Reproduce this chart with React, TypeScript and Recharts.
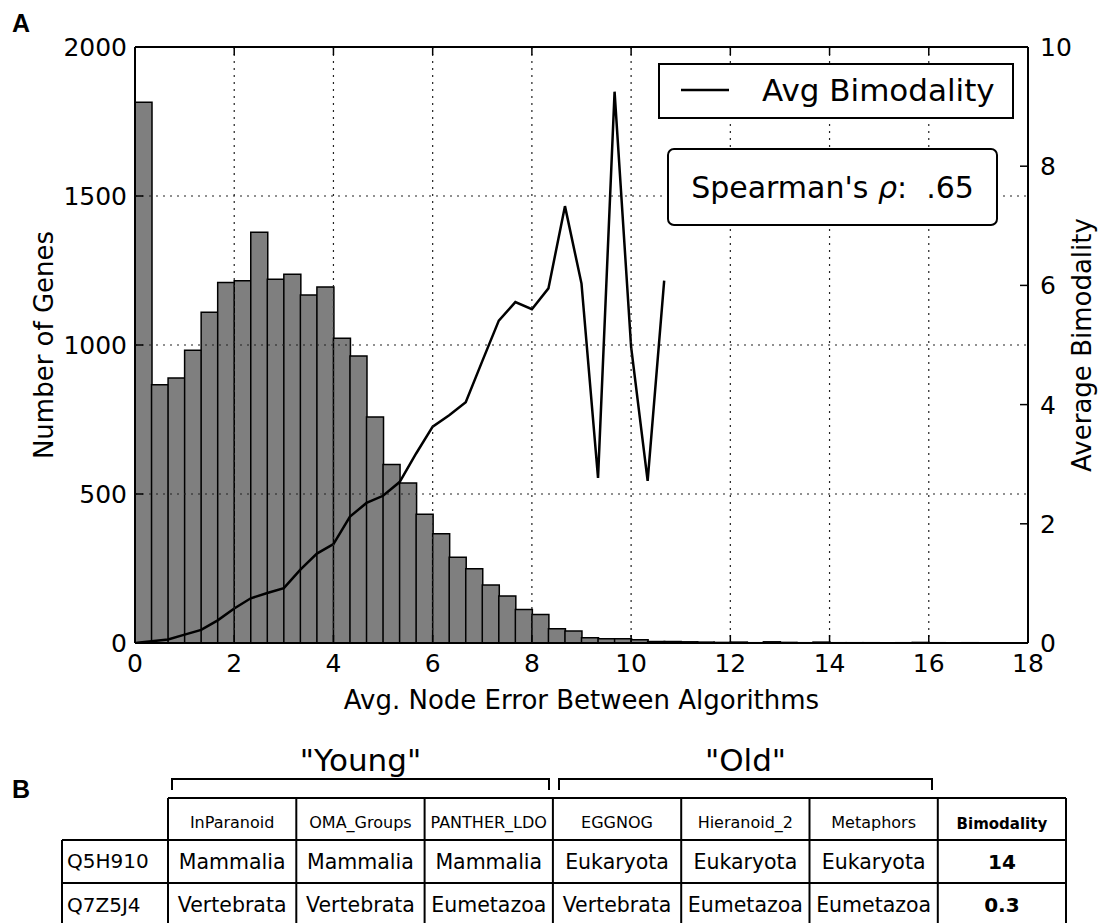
import React from 'react';
import { ComposedChart, Bar, Line, XAxis, YAxis, ReferenceLine, Legend } from 'recharts';

// ---------- DATA ----------
// Histogram: number of genes per bin (bin width 1/3, from 0 to 18)
const geneCounts = [
  1815, 867, 889, 982, 1110, 1210, 1216, 1378, 1221, 1237, 1168, 1195,
  1023, 963, 758, 599, 537, 432, 367, 288, 249, 195, 158, 112,
  96, 48, 40, 18, 14, 14, 11, 5, 5, 4, 3, 2,
  3, 1, 4, 2, 1, 3, 1, 1, 1, 0, 1, 2,
  1, 0, 1, 0, 0, 0,
];
// Average bimodality at each bin edge (0, 1/3, 2/3, ...)
const avgBimodality = [
  0.0, 0.03, 0.06, 0.14, 0.22, 0.38, 0.58, 0.75, 0.84, 0.92, 1.23, 1.5,
  1.66, 2.12, 2.35, 2.47, 2.7, 3.18, 3.63, 3.82, 4.04, 4.73, 5.41, 5.72,
  5.6, 5.95, 7.33, 6.03, 2.77, 9.25, 4.97, 2.72, 6.08,
];
const binWidth = 1 / 3;
const xTicks = [0, 2, 4, 6, 8, 10, 12, 14, 16, 18];
const leftTicks = [0, 500, 1000, 1500, 2000];
const rightTicks = [0, 2, 4, 6, 8, 10];
const gridY = [500, 1000, 1500];
const spearmanText = ".65";

// Table (panel B)
const groups = ['"Young"', '"Old"'];
const algorithms = ['InParanoid', 'OMA_Groups', 'PANTHER_LDO', 'EGGNOG', 'Hieranoid_2', 'Metaphors'];
const scoreHeader = 'Bimodality';
const geneIds = ['Q5H910', 'Q7Z5J4'];
const taxa = [
  ['Mammalia', 'Mammalia', 'Mammalia', 'Eukaryota', 'Eukaryota', 'Eukaryota'],
  ['Vertebrata', 'Vertebrata', 'Eumetazoa', 'Vertebrata', 'Eumetazoa', 'Eumetazoa'],
];
const scores = ['14', '0.3'];

const barData = geneCounts.map((c, i) => ({ bin: i, count: c }));
const lineData = avgBimodality.map((v, k) => ({ x: k * binWidth, v }));

// ---------- LAYOUT ----------
const FONT = "'DejaVu Sans', Verdana, sans-serif";
const W = 1101;
const CHART_H = 720;
const PLOT_LEFT = 135;
const PLOT_RIGHT = 1028;
const PLOT_TOP = 47;
const PLOT_BOTTOM = 643;
const TICK_LEN = 8;
const TICK_FS = 25;

const BottomTick = (p: any) => (
  <g>
    <line x1={p.x} y1={PLOT_BOTTOM} x2={p.x} y2={PLOT_BOTTOM - TICK_LEN} stroke="#000" strokeWidth={1.5} />
    <text x={p.x} y={PLOT_BOTTOM + 29} textAnchor="middle" fontSize={TICK_FS} fontFamily={FONT} fill="#000">{p.payload.value}</text>
  </g>
);
const LeftTick = (p: any) => (
  <g>
    <line x1={PLOT_LEFT} y1={p.y} x2={PLOT_LEFT + TICK_LEN} y2={p.y} stroke="#000" strokeWidth={1.5} />
    <text x={PLOT_LEFT - 8} y={p.y} dy="0.36em" textAnchor="end" fontSize={TICK_FS} fontFamily={FONT} fill="#000">{p.payload.value}</text>
  </g>
);
const RightTick = (p: any) => (
  <g>
    <line x1={PLOT_RIGHT} y1={p.y} x2={PLOT_RIGHT - TICK_LEN} y2={p.y} stroke="#000" strokeWidth={1.5} />
    <text x={PLOT_RIGHT + 12} y={p.y} dy="0.36em" textAnchor="start" fontSize={TICK_FS} fontFamily={FONT} fill="#000">{p.payload.value}</text>
  </g>
);

// vertical grid line + inward top tick
const makeVGrid = (interior: boolean) => (p: any) => {
  const top = Math.min(p.y1, p.y2);
  const bottom = Math.max(p.y1, p.y2);
  return (
    <g>
      {interior && (
        <line x1={p.x1} y1={top} x2={p.x1} y2={bottom} stroke="#222" strokeWidth={1.2} strokeDasharray="2 5" />
      )}
      <line x1={p.x1} y1={top} x2={p.x1} y2={top + TICK_LEN} stroke="#000" strokeWidth={1.5} />
    </g>
  );
};

const cy = (PLOT_TOP + PLOT_BOTTOM) / 2;
const LeftTitle = () => (
  <text x={44} y={cy} transform={`rotate(-90, 44, ${cy})`} textAnchor="middle" dy="0.36em" fontSize={26} fontFamily={FONT} fill="#000">Number of Genes</text>
);
const RightTitle = () => (
  <text x={1082} y={cy} transform={`rotate(-90, 1082, ${cy})`} textAnchor="middle" dy="0.36em" fontSize={26} fontFamily={FONT} fill="#000">Average Bimodality</text>
);
const BottomTitle = () => (
  <text x={(PLOT_LEFT + PLOT_RIGHT) / 2} y={709} textAnchor="middle" fontSize={26} fontFamily={FONT} fill="#000">Avg. Node Error Between Algorithms</text>
);

const LegendBoxes = (props: any) => {
  const entry = (props.payload || []).find((e: any) => e.type !== 'none');
  const label = entry ? entry.value : 'Avg Bimodality';
  return (
    <div style={{ position: 'relative', width: 356, height: 165, fontFamily: FONT, color: '#000' }}>
      <div style={{ position: 'absolute', left: 0, top: 0, width: 356, height: 56, border: '2px solid #000', boxSizing: 'border-box', background: '#fff' }}>
        <svg width={60} height={52} style={{ position: 'absolute', left: 14, top: 0 }}>
          <line x1={7} y1={25} x2={55} y2={25} stroke="#000" strokeWidth={2.5} />
        </svg>
        <span style={{ position: 'absolute', left: 102, top: 7, fontSize: 31, lineHeight: '36px', whiteSpace: 'nowrap' }}>{label}</span>
      </div>
      <div style={{ position: 'absolute', left: 9, top: 85, width: 331, height: 78, border: '2px solid #000', borderRadius: 7, boxSizing: 'border-box', background: '#fff', display: 'flex', alignItems: 'center', justifyContent: 'center' }}>
        <span style={{ fontSize: 30, whiteSpace: 'nowrap' }}>Spearman's <i>ρ</i>:&nbsp; {spearmanText}</span>
      </div>
    </div>
  );
};

// Table geometry
const colX = [168, 296.3, 424.6, 552.9, 681.2, 809.5, 937.8, 1066];
const firstColX = 62;
const rowY = [798, 840, 883, 925];

const TablePanel = () => {
  const mid = (i: number) => (colX[i] + colX[i + 1]) / 2;
  return (
    <svg width={W} height={923} style={{ position: 'absolute', left: 0, top: 0, pointerEvents: 'none' }}>
      <text x={12} y={32} fontSize={25} fontWeight="bold" fontFamily="'Liberation Sans', Arial, sans-serif" fill="#000">A</text>
      <text x={12} y={798} fontSize={25} fontWeight="bold" fontFamily="'Liberation Sans', Arial, sans-serif" fill="#000">B</text>
      <text x={(172 + 549) / 2} y={771} textAnchor="middle" fontSize={31} fontFamily={FONT} fill="#000">{groups[0]}</text>
      <text x={(559 + 932) / 2} y={771} textAnchor="middle" fontSize={31} fontFamily={FONT} fill="#000">{groups[1]}</text>
      <path d="M172,790 V779 H549 V790" fill="none" stroke="#000" strokeWidth={2} />
      <path d="M559,790 V779 H932 V790" fill="none" stroke="#000" strokeWidth={2} />
      <line x1={colX[0]} y1={rowY[0]} x2={colX[7]} y2={rowY[0]} stroke="#000" strokeWidth={2} />
      {[1, 2, 3].map((r) => (
        <line key={r} x1={firstColX} y1={rowY[r]} x2={colX[7]} y2={rowY[r]} stroke="#000" strokeWidth={2} />
      ))}
      {colX.map((x, i) => (
        <line key={i} x1={x} y1={rowY[0]} x2={x} y2={rowY[3]} stroke="#000" strokeWidth={2} />
      ))}
      <line x1={firstColX} y1={rowY[1]} x2={firstColX} y2={rowY[3]} stroke="#000" strokeWidth={2} />
      {algorithms.map((a, i) => (
        <text key={a} x={mid(i)} y={828} textAnchor="middle" fontSize={16} fontFamily={FONT} fill="#000">{a}</text>
      ))}
      <text x={mid(6)} y={829} textAnchor="middle" fontSize={15} fontWeight="bold" fontFamily={FONT} fill="#000">{scoreHeader}</text>
      {geneIds.map((g, r) => (
        <g key={g}>
          <text x={67} y={[868, 912][r]} fontSize={20} fontFamily={FONT} fill="#000">{g}</text>
          {taxa[r].map((t, i) => (
            <text key={i} x={mid(i)} y={[869, 912][r]} textAnchor="middle" fontSize={20.5} fontFamily={FONT} fill="#000">{t}</text>
          ))}
          <text x={mid(6)} y={[869, 912][r]} textAnchor="middle" fontSize={20} fontWeight="bold" fontFamily={FONT} fill="#000">{scores[r]}</text>
        </g>
      ))}
    </svg>
  );
};

export default function App() {
  const axisLine = { stroke: '#000', strokeWidth: 2 };
  const gridZ: any = { zIndex: 1000 };
  return (
    <div style={{ position: 'absolute', left: 0, top: 0, width: W, height: 923, background: '#fff', fontFamily: FONT, overflow: 'hidden' }}>
      <ComposedChart
        width={W}
        height={CHART_H}
        data={barData}
        margin={{ top: PLOT_TOP, right: 0, left: 0, bottom: CHART_H - PLOT_BOTTOM - 40 }}
        barCategoryGap={0}
        barGap={0}
      >
        <XAxis xAxisId="bins" dataKey="bin" orientation="top" height={0} hide />
        <XAxis
          xAxisId="num"
          type="number"
          dataKey="x"
          domain={[0, 18]}
          allowDataOverflow
          ticks={xTicks}
          interval={0}
          height={40}
          tickSize={0}
          tickMargin={0}
          tickLine={false}
          axisLine={axisLine}
          tick={BottomTick}
          label={<BottomTitle />}
        />
        <YAxis
          yAxisId="left"
          domain={[0, 2000]}
          allowDataOverflow
          ticks={leftTicks}
          interval={0}
          width={PLOT_LEFT}
          tickSize={0}
          tickMargin={0}
          tickLine={false}
          axisLine={axisLine}
          tick={LeftTick}
          label={<LeftTitle />}
        />
        <YAxis
          yAxisId="right"
          orientation="right"
          domain={[0, 10]}
          allowDataOverflow
          ticks={rightTicks}
          interval={0}
          width={W - PLOT_RIGHT}
          tickSize={0}
          tickMargin={0}
          tickLine={false}
          axisLine={axisLine}
          tick={RightTick}
          label={<RightTitle />}
        />
        <Bar
          xAxisId="bins"
          yAxisId="left"
          dataKey="count"
          fill="#7f7f7f"
          stroke="#000"
          strokeWidth={1.5}
          legendType="none"
          isAnimationActive={false}
        />
        {xTicks.map((x) => (
          <ReferenceLine
            key={'gx' + x}
            xAxisId="num"
            yAxisId="left"
            x={x}
            stroke="#222"
            {...gridZ}
            shape={makeVGrid(x !== xTicks[0] && x !== xTicks[xTicks.length - 1])}
          />
        ))}
        {gridY.map((y) => (
          <ReferenceLine key={'gy' + y} xAxisId="num" yAxisId="left" y={y} stroke="#222" strokeWidth={1.2} strokeDasharray="2 5" {...gridZ} />
        ))}
        <ReferenceLine xAxisId="num" yAxisId="left" y={leftTicks[leftTicks.length - 1]} stroke="#000" strokeWidth={2} {...gridZ} />
        <Line
          xAxisId="num"
          yAxisId="right"
          data={lineData}
          dataKey="v"
          name="Avg Bimodality"
          type="linear"
          stroke="#000"
          strokeWidth={2.5}
          dot={false}
          isAnimationActive={false}
        />
        <Legend
          layout="horizontal"
          verticalAlign="middle"
          align="center"
          wrapperStyle={{ position: 'absolute', left: 658, top: 63, width: 356, height: 165 }}
          content={LegendBoxes}
        />
      </ComposedChart>
      <TablePanel />
    </div>
  );
}
